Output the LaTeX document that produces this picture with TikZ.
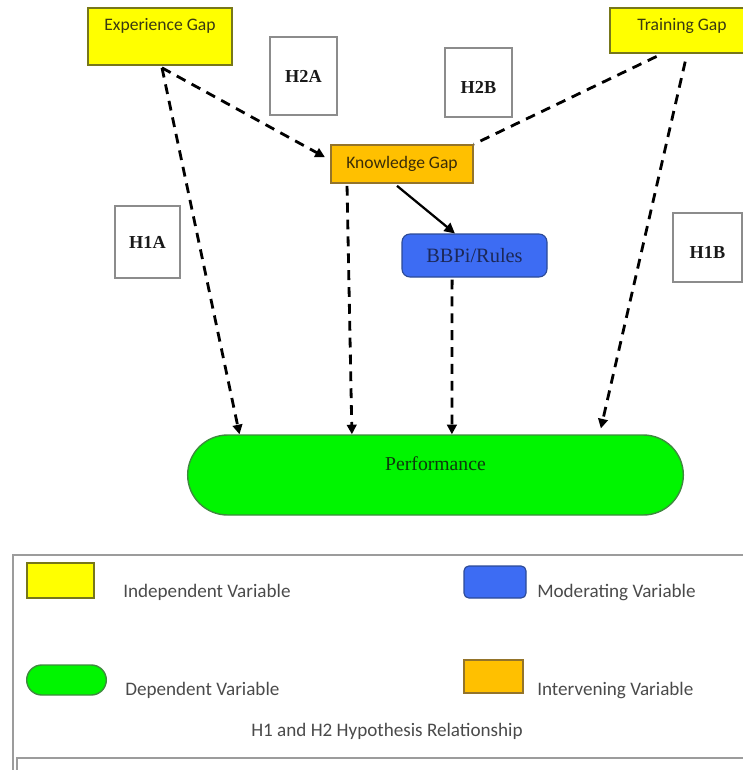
\documentclass[tikz,border=0pt]{standalone}
\usepackage{fontspec}
\setmainfont{Liberation Serif}
\newfontfamily\calfont{Carlito}
\usetikzlibrary{shapes.misc,arrows.meta}
\usepackage{xcolor}
\definecolor{ivfill}{HTML}{FFFF00}
\definecolor{ivdraw}{HTML}{77771A}
\definecolor{ivtext}{HTML}{3A3A12}
\definecolor{itfill}{HTML}{FFC000}
\definecolor{itdraw}{HTML}{94742A}
\definecolor{ittext}{HTML}{3A2C08}
\definecolor{mvfill}{HTML}{3D6CF3}
\definecolor{mvdraw}{HTML}{2C4A96}
\definecolor{mvtext}{HTML}{1C2858}
\definecolor{dvfill}{HTML}{00F500}
\definecolor{dvdraw}{HTML}{3E8A3E}
\definecolor{dvtext}{HTML}{0C3A0C}
\definecolor{hypdraw}{HTML}{8C8C8C}
\definecolor{legdraw}{HTML}{9C9C9C}
\definecolor{legtext}{HTML}{4A4A4A}
\newcommand{\hyp}[6] {
    \node[hypbox,minimum width={#3},minimum height={#4},{#6}] (#5) at ({#1}, {#2}) {\textbf{#5}};
}
\newcommand{\legentry}[7] {
    \node[{#4}] (#1) at ({#2}, {#3}) {};
    \node[legtext,anchor=west] (#1t) at ({#5}, {#6}) {#7};
}
\tikzset{
    ivbox/.style={
        draw=ivdraw,
        line width=1.2pt,
        fill=ivfill,
        text=ivtext,
        font=\calfont\fontsize{12.5}{15}\selectfont,
        minimum width=36mm,
        text height=8pt
    },
    itbox/.style={
        draw=itdraw,
        line width=1.2pt,
        fill=itfill,
        text=ittext,
        font=\calfont\fontsize{12.5}{15}\selectfont
    },
    mvbox/.style={
        draw=mvdraw,
        line width=0.8pt,
        fill=mvfill,
        rounded corners=2mm,
        text=mvtext,
        font=\fontsize{14.5}{17}\selectfont
    },
    dvbox/.style={
        rounded rectangle,
        draw=dvdraw,
        line width=1pt,
        fill=dvfill,
        text=dvtext,
        font=\fontsize{14}{17}\selectfont
    },
    hypbox/.style={
        draw=hypdraw,
        line width=1pt,
        text=black!90,
        font=\fontsize{13}{15}\selectfont
    },
    low/.style={
        text height=15pt,
        text depth=0pt
    },
    legtext/.style={
        text=legtext,
        font=\calfont\fontsize{13.6}{16}\selectfont,
        inner sep=0pt
    },
    gap/.style={
        line width=2pt,
        dash pattern=on 7pt off 5pt,
        -{Triangle[length=2.4mm,width=2.4mm]}
    }
}

\begin{document}
\begin{tikzpicture}[x=0.25mm,y=-0.25mm]
    \clip (0,0) rectangle (743,770);
    \node[ivbox,minimum height=14.25mm,text depth=16pt] (exp) at (160,36.5) {Experience Gap};
    \node[ivbox,minimum height=11.25mm,text depth=8pt] (trn) at (682,30.5) {Training Gap};
    \node[itbox,minimum width=35.5mm,minimum height=9.5mm] (kng) at (402,164) {Knowledge Gap};
    \node[mvbox,minimum width=36.25mm,minimum height=10.75mm] (bbp) at (474.5,255.5) {BBPi/Rules};
    \node[dvbox,minimum width=126.25mm,minimum height=20mm,text height=10pt,text depth=16pt] (prf) at (435.5,475) {Performance};
    \hyp{303.5}{76}{16.75mm}{19.5mm}{H2A}{}
    \hyp{478.5}{82.5}{16.75mm}{17.25mm}{H2B}{low}
    \hyp{147.5}{242}{16.25mm}{18mm}{H1A}{}
    \hyp{707.5}{247.5}{17.25mm}{17.25mm}{H1B}{low}

    \draw[gap] ([xshift=0.5mm,yshift=-0.5mm]exp.south) -- ([xshift=-49mm]prf.north);
    \draw[gap,shorten >=1.5mm] ([xshift=0.5mm,yshift=-0.5mm]exp.south) -- ([yshift=1mm]kng.west);
    \draw[gap,-,shorten <=1.5mm] ([xshift=-5mm]trn.south) -- (kng.north east);
    \draw[gap,shorten <=2mm,shorten >=1.5mm] ([xshift=1.25mm]trn.south) -- ([xshift=41mm]prf.north);
    \draw[gap,shorten <=0.5mm] ([xshift=-13.75mm]kng.south) -- ([xshift=-20.9mm]prf.north);
    \draw[line width=1.6pt,-{Triangle[length=2.6mm,width=2.6mm]}] ([xshift=-1.25mm,yshift=-0.5mm]kng.south) -- ([xshift=-4.9mm]bbp.north);
    \draw[gap,shorten <=0.5mm] ([xshift=-5.6mm]bbp.south) -- ([xshift=4.1mm]prf.north);

    \draw[legdraw,line width=1.3pt] (743,555) -- (13,555) -- (13,770);
    \draw[legdraw,line width=1.3pt] (743,758) -- (17,758) -- (17,770);
    \legentry{legiv}{60.5}{580.5}{ivbox,minimum width=16.75mm,minimum height=8.75mm}{123}{592}{Independent Variable}
    \legentry{legdv}{66.5}{680}{dvbox,minimum width=22.25mm,minimum height=7.5mm}{125}{690}{Dependent Variable}
    \legentry{legmv}{495}{582}{mvbox,rounded corners=1.2mm,minimum width=15.5mm,minimum height=8mm}{537}{592}{Moderating Variable}
    \legentry{legit}{493.5}{676.5}{itbox,minimum width=14.75mm,minimum height=8.25mm}{537}{690}{Intervening Variable}
    \node[legtext] (cap) at (387,731) {H1 and H2 Hypothesis Relationship};
\end{tikzpicture}
\end{document}
